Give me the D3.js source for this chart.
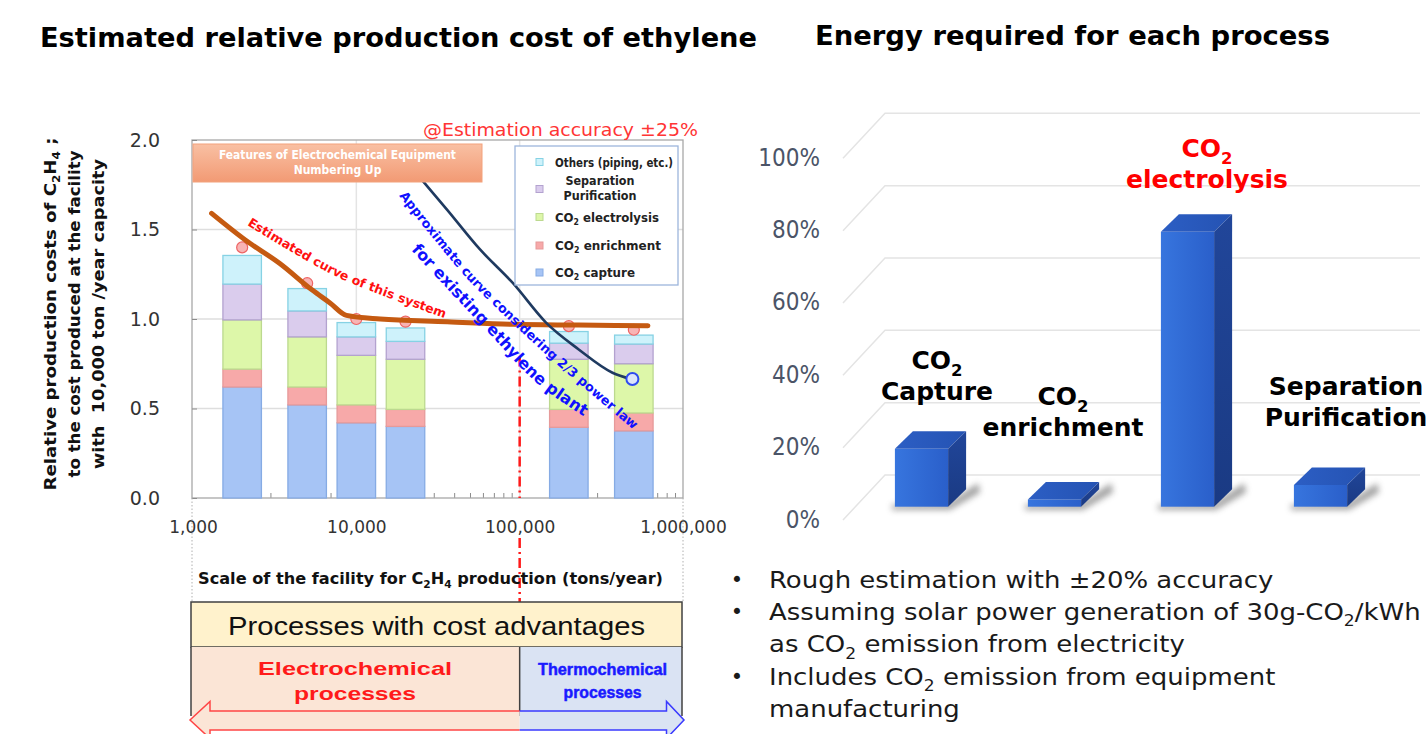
<!DOCTYPE html>
<html>
<head>
<meta charset="utf-8">
<script src="https://cdn.jsdelivr.net/npm/d3@7"></script>
<style>
  body { margin: 0; background: #fff; }
  svg { display: block; }
</style>
</head>
<body>
<svg id="chart" width="1428" height="734"></svg>
<script>
// ---------- Left chart: relative production cost vs. plant scale ----------
const plantScales   = [2000, 5000, 10000, 20000, 200000, 500000];   // tons/year
const co2Capture     = [0.62, 0.52, 0.42, 0.40, 0.395, 0.375];
const co2Enrichment  = [0.10, 0.10, 0.10, 0.095, 0.10, 0.10];
const co2Electrolysis= [0.275, 0.28, 0.277, 0.28, 0.28, 0.275];
const sepPurification= [0.20, 0.145, 0.103, 0.10, 0.09, 0.11];
const othersPiping   = [0.16, 0.125, 0.08, 0.075, 0.065, 0.05];

const estimatedPoints = [[2000, 1.40], [5000, 1.20], [10000, 1.00], [20000, 0.985], [200000, 0.96], [500000, 0.94]];
const estimatedCurve  = [[1300, 1.59], [2100, 1.44], [3400, 1.31], [5400, 1.16], [6900, 1.09], [8700, 1.02],
                         [14000, 1.00], [36000, 0.985], [91000, 0.97], [230000, 0.966], [610000, 0.962]];
const powerLawCurve   = [[24000, 1.80], [36000, 1.61], [57000, 1.39], [91000, 1.20], [145000, 0.98],
                         [230000, 0.83], [370000, 0.70], [480000, 0.665]];
const existingPlant   = [490000, 0.665];
const boundaryScale   = 100000;
const boundaryTop     = 0.79;

const costTicks  = [0, 0.5, 1.0, 1.5, 2.0];
const scaleTicks = [1000, 10000, 100000, 1000000];

const seriesKeys   = ["capture", "enrichment", "electrolysis", "separation", "others"];
const legendLabels = ["Others (piping, etc.)", "Separation|Purification", "CO{2} electrolysis", "CO{2} enrichment", "CO{2} capture"];

// ---------- Right chart: energy share by process ----------
const processes   = ["CO{2}|Capture", "CO{2}|enrichment", "CO{2}|electrolysis", "Separation|Purification"];
const energyShare = [16, 2, 76, 6];   // percent
const shareTicks  = [0, 20, 40, 60, 80, 100];

const notes = [
  ["Rough estimation with \u00b120% accuracy"],
  ["Assuming solar power generation of 30g-CO{2}/kWh", "as CO{2} emission from electricity"],
  ["Includes CO{2} emission from equipment", "manufacturing"]
];

const svg = d3.select("#chart");
const SANS = "DejaVu Sans, Verdana, sans-serif";
const COND = "DejaVu Sans Condensed, DejaVu Sans, sans-serif";
const ARIAL = "Liberation Sans, Arial, sans-serif";

// text with {subscript} markup
function richText(t, s) {
  const fs = parseFloat(t.attr("font-size"));
  const parts = s.split(/(\{[^}]*\})/).filter(p => p.length);
  let shifted = false;
  parts.forEach(p => {
    const sub = p.startsWith("{");
    const ts = t.append("tspan").text(sub ? p.slice(1, -1) : p);
    if (sub) { ts.attr("font-size", fs * 0.66).attr("dy", fs * 0.26); shifted = true; }
    else if (shifted) { ts.attr("dy", -fs * 0.26); shifted = false; }
  });
  return t;
}

const defs = svg.append("defs");

// ---------- titles ----------
svg.append("text").attr("x", 40).attr("y", 47)
  .attr("font-family", SANS).attr("font-weight", "bold").attr("font-size", 26)
  .attr("textLength", 717).attr("lengthAdjust", "spacingAndGlyphs")
  .text("Estimated relative production cost of ethylene");
svg.append("text").attr("x", 815).attr("y", 45)
  .attr("font-family", SANS).attr("font-weight", "bold").attr("font-size", 26)
  .attr("textLength", 515).attr("lengthAdjust", "spacingAndGlyphs")
  .text("Energy required for each process");

// ---------- left chart scales ----------
const x = d3.scaleLog().domain([1000, 1000000]).range([193, 683]);
const y = d3.scaleLinear().domain([0, 2]).range([498, 140]);
const plotL = 192, plotR = 683, plotT = 140, plotB = 498;
const barW = 38.5;

const left = svg.append("g");

// grid
left.append("g").selectAll("line").data([0.5, 1.0, 1.5]).join("line")
  .attr("x1", plotL).attr("x2", plotR).attr("y1", d => y(d)).attr("y2", d => y(d))
  .attr("stroke", "#dedede").attr("stroke-width", 1.5);
left.append("g").selectAll("line").data([10000, 100000]).join("line")
  .attr("x1", d => x(d)).attr("x2", d => x(d)).attr("y1", plotT).attr("y2", plotB)
  .attr("stroke", "#e4e4e4").attr("stroke-width", 1.5);

// minor log ticks along the bottom
const minor = [];
[1000, 10000, 100000].forEach(dec => { for (let k = 2; k <= 9; k++) minor.push(dec * k); });
left.append("g").selectAll("line").data(minor).join("line")
  .attr("x1", d => x(d)).attr("x2", d => x(d)).attr("y1", plotB).attr("y2", plotB - 5)
  .attr("stroke", "#8c8c8c").attr("stroke-width", 1);

// frame
left.append("rect").attr("x", plotL).attr("y", plotT)
  .attr("width", plotR - plotL).attr("height", plotB - plotT)
  .attr("fill", "none").attr("stroke", "#a8a8a8").attr("stroke-width", 1.3);

// axes
const yAxis = left.append("g").attr("transform", `translate(${plotL},0)`)
  .call(d3.axisLeft(y).tickValues(costTicks).tickFormat(d3.format(".1f")).tickSize(-5).tickPadding(32));
yAxis.select(".domain").remove();
yAxis.selectAll("line").attr("stroke", "#8c8c8c");
yAxis.selectAll("text").attr("font-family", SANS).attr("font-size", 19).attr("fill", "#333");

const xAxis = left.append("g").attr("transform", `translate(0,${plotB})`)
  .call(d3.axisBottom(x).tickValues(scaleTicks).tickFormat(d3.format(",")).tickSize(0).tickPadding(23));
xAxis.select(".domain").remove();
xAxis.selectAll("text").attr("font-family", SANS).attr("font-size", 17).attr("fill", "#333");

// dotted guides below the axis
left.append("g").selectAll("line").data([plotL, plotR]).join("line")
  .attr("x1", d => d).attr("x2", d => d).attr("y1", plotB).attr("y2", 602)
  .attr("stroke", "#b0b0b0").attr("stroke-width", 1).attr("stroke-dasharray", "1.5,2");

// stacked bars
const rows = plantScales.map((s, i) => ({
  scale: s, capture: co2Capture[i], enrichment: co2Enrichment[i], electrolysis: co2Electrolysis[i],
  separation: sepPurification[i], others: othersPiping[i]
}));
const stacked = d3.stack().keys(seriesKeys)(rows);
const fills   = { capture: "#a6c4f5", enrichment: "#f7a9a9", electrolysis: "#ddf7a9", separation: "#dacced", others: "#cef2fb" };
const strokes = { capture: "#86abe4", enrichment: "#e69a9a", electrolysis: "#bcd98f", separation: "#b3a2cf", others: "#86d2e4" };

left.append("g").selectAll("g").data(stacked).join("g")
  .attr("fill", d => fills[d.key]).attr("stroke", d => strokes[d.key]).attr("stroke-width", 1.3)
  .selectAll("rect").data(d => d).join("rect")
  .attr("x", d => x(d.data.scale) - barW / 2).attr("width", barW)
  .attr("y", d => y(d[1])).attr("height", d => y(d[0]) - y(d[1]));

// boundary between electrochemical and thermochemical
const bx = x(boundaryScale);
[[y(boundaryTop), plotB], [538, 602]].forEach(([a, b]) => {
  left.append("line").attr("x1", bx).attr("x2", bx).attr("y1", a).attr("y2", b)
    .attr("stroke", "#ff1a1a").attr("stroke-width", 2.5).attr("stroke-dasharray", "10,4,2,4");
});

// estimated points and curve of this system
left.append("g").selectAll("circle").data(estimatedPoints).join("circle")
  .attr("cx", d => x(d[0])).attr("cy", d => y(d[1])).attr("r", 5.5)
  .attr("fill", "#f8b4b4").attr("stroke", "#ee6464").attr("stroke-width", 1.2);

const line = d3.line().x(d => x(d[0])).y(d => y(d[1])).curve(d3.curveMonotoneX);
left.append("path").datum(estimatedCurve).attr("d", line)
  .attr("fill", "none").attr("stroke", "#c55a11").attr("stroke-width", 5)
  .attr("stroke-linecap", "round").attr("stroke-linejoin", "round");

// 2/3 power law curve for existing plants
left.append("path").datum(powerLawCurve).attr("d", line)
  .attr("fill", "none").attr("stroke", "#1f3a60").attr("stroke-width", 2.6).attr("stroke-linecap", "round");
left.append("circle").attr("cx", x(existingPlant[0])).attr("cy", y(existingPlant[1])).attr("r", 6)
  .attr("fill", "#dde5fb").attr("stroke", "#2f4cf0").attr("stroke-width", 2);

// curved annotations
const guide = d3.line().curve(d3.curveCatmullRom.alpha(0.5));
function pathLabel(id, pts, txt, size, color) {
  defs.append("path").attr("id", id).attr("d", guide(pts));
  left.append("text").attr("font-family", SANS).attr("font-weight", "bold")
    .attr("font-size", size).attr("fill", color)
    .append("textPath").attr("href", "#" + id).text(txt);
}
pathLabel("estPath", [[247, 225], [309, 262], [346, 281], [444, 318]],
  "Estimated curve of this system", 12.5, "#ff1010");
pathLabel("lawPath", [[399, 196], [461, 272], [488, 300], [551, 359], [635, 431]],
  "Approximate curve considering 2/3 power law", 12.8, "#1010ff");
pathLabel("plantPath", [[411, 250], [484, 328], [539, 385], [588, 419]],
  "for existing ethylene plant", 16, "#1010ff");

// feature banner
const bannerGrad = defs.append("linearGradient").attr("id", "banner").attr("x1", 0).attr("x2", 0).attr("y1", 0).attr("y2", 1);
bannerGrad.append("stop").attr("offset", "0%").attr("stop-color", "#f9c0a3");
bannerGrad.append("stop").attr("offset", "100%").attr("stop-color", "#f29a74");
left.append("rect").attr("x", 193).attr("y", 144).attr("width", 289).attr("height", 38)
  .attr("fill", "url(#banner)").attr("stroke", "#f3a27c").attr("stroke-width", 1);
left.append("text").attr("x", 337.5).attr("y", 159).attr("text-anchor", "middle")
  .attr("font-family", COND).attr("font-weight", "bold").attr("font-size", 12).attr("fill", "#fff")
  .attr("textLength", 237).attr("lengthAdjust", "spacingAndGlyphs")
  .text("Features of Electrochemical Equipment");
left.append("text").attr("x", 337.5).attr("y", 173.5).attr("text-anchor", "middle")
  .attr("font-family", COND).attr("font-weight", "bold").attr("font-size", 12).attr("fill", "#fff")
  .text("Numbering Up");

// accuracy note
svg.append("text").attr("x", 423).attr("y", 136)
  .attr("font-family", SANS).attr("font-size", 17.5).attr("fill", "#ff3535")
  .attr("textLength", 275).attr("lengthAdjust", "spacingAndGlyphs")
  .text("@Estimation accuracy \u00b125%");

// legend
const lg = left.append("g");
lg.append("rect").attr("x", 515).attr("y", 146).attr("width", 163).attr("height", 139)
  .attr("fill", "#fff").attr("stroke", "#9db6dc").attr("stroke-width", 1.3);
const legendKeys = ["others", "separation", "electrolysis", "enrichment", "capture"];
const legendY = [162, 189, 217, 245.5, 272.5];
const legendLen = [118, [69, 73], 104, 106, 80];
legendKeys.forEach((k, i) => {
  lg.append("rect").attr("x", 536).attr("y", legendY[i] - 3.5).attr("width", 7).attr("height", 7)
    .attr("fill", fills[k]).attr("stroke", strokes[k]).attr("stroke-width", 1);
  const lines = legendLabels[i].split("|");
  if (lines.length === 1) {
    richText(lg.append("text").attr("x", 555).attr("y", legendY[i] + 4.5)
      .attr("font-family", COND).attr("font-weight", "bold").attr("font-size", i === 0 ? 11.5 : 12.5).attr("fill", "#222")
      .attr("textLength", legendLen[i]).attr("lengthAdjust", "spacingAndGlyphs"), lines[0]);
  } else {
    lines.forEach((ln, j) => {
      lg.append("text").attr("x", 600).attr("y", legendY[i] - 4 + j * 15).attr("text-anchor", "middle")
        .attr("font-family", COND).attr("font-weight", "bold").attr("font-size", 12).attr("fill", "#222")
        .attr("textLength", legendLen[i][j]).attr("lengthAdjust", "spacingAndGlyphs").text(ln);
    });
  }
});

// axis titles
const yTitle = svg.append("g").attr("font-family", SANS).attr("font-weight", "bold")
  .attr("fill", "#111").attr("text-anchor", "middle");
[["Relative production costs of C{2}H{4} ;", 55.5, 353], ["to the cost produced at the facility", 80, 327],
 ["with  10,000 ton /year capacity", 103.5, 310]].forEach(([s, bxp, len]) => {
  richText(yTitle.append("text").attr("transform", `translate(${bxp},314) rotate(-90)`)
    .attr("font-size", 15.5).attr("xml:space", "preserve")
    .attr("textLength", len).attr("lengthAdjust", "spacingAndGlyphs"), s);
});
richText(svg.append("text").attr("x", 430.5).attr("y", 584).attr("text-anchor", "middle")
  .attr("font-family", SANS).attr("font-weight", "bold").attr("font-size", 15).attr("fill", "#111")
  .attr("textLength", 465).attr("lengthAdjust", "spacingAndGlyphs"),
  "Scale of the facility for C{2}H{4} production (tons/year)");

// ---------- process advantage boxes ----------
const bxg = svg.append("g");
bxg.append("rect").attr("x", 191).attr("y", 602).attr("width", 491).attr("height", 45)
  .attr("fill", "#fff2cc").attr("stroke", "#404040").attr("stroke-width", 1.5);
bxg.append("text").attr("x", 436.5).attr("y", 635).attr("text-anchor", "middle")
  .attr("font-family", ARIAL).attr("font-size", 26).attr("fill", "#111")
  .attr("textLength", 417).attr("lengthAdjust", "spacingAndGlyphs")
  .text("Processes with cost advantages");
bxg.append("rect").attr("x", 191).attr("y", 647).attr("width", bx - 191).attr("height", 69).attr("fill", "#fbe5d6");
bxg.append("rect").attr("x", bx).attr("y", 647).attr("width", 682 - bx).attr("height", 69).attr("fill", "#dae3f3");
[[191, 647, 191, 716], [682, 647, 682, 716], [bx, 647, bx, 716]].forEach(([a, b, c, d]) => {
  bxg.append("line").attr("x1", a).attr("y1", b).attr("x2", c).attr("y2", d)
    .attr("stroke", "#404040").attr("stroke-width", 1.5);
});

// double-headed arrow
const arrowL = `M${bx},711 L210,711 L210,701.5 L190,720 L210,738.5 L210,730 L${bx},730`;
const arrowR = `M${bx},711 L666.5,711 L666.5,701.5 L684,720 L666.5,738.5 L666.5,730 L${bx},730`;
bxg.append("path").attr("d", arrowL + "Z").attr("fill", "#fbe5d6");
bxg.append("path").attr("d", arrowR + "Z").attr("fill", "#dae3f3");
bxg.append("path").attr("d", arrowL).attr("fill", "none").attr("stroke", "#ff4545").attr("stroke-width", 1.5);
bxg.append("path").attr("d", arrowR).attr("fill", "none").attr("stroke", "#3a3aff").attr("stroke-width", 1.5);

[["Electrochemical", 675, 194], ["processes", 700, 122]].forEach(([s, yy, w]) => {
  bxg.append("text").attr("x", 355).attr("y", yy).attr("text-anchor", "middle")
    .attr("font-family", ARIAL).attr("font-weight", "bold").attr("font-size", 19).attr("fill", "#ff1a1a")
    .attr("textLength", w).attr("lengthAdjust", "spacingAndGlyphs").text(s);
});
[["Thermochemical", 675, 129], ["processes", 698, 78]].forEach(([s, yy, w]) => {
  bxg.append("text").attr("x", 602.5).attr("y", yy).attr("text-anchor", "middle")
    .attr("font-family", ARIAL).attr("font-weight", "bold").attr("font-size", 16).attr("fill", "#1a1aff")
    .attr("stroke", "#1a1aff").attr("stroke-width", 0.5)
    .attr("textLength", w).attr("lengthAdjust", "spacingAndGlyphs").text(s);
});

// ---------- right chart: 3D columns ----------
const right = svg.append("g");
const wallY = d3.scaleLinear().domain([0, 100]).range([475, 113.3]);   // back wall
const barY  = d3.scaleLinear().domain([0, 100]).range([506.7, 145]);   // bar front plane
const band  = d3.scaleBand().domain(processes).range([855, 1387]).paddingInner(0.6).paddingOuter(0.3);
const depth = { dx: 18, dy: -17.5 };
const floorDx = 42, floorDy = 45;

right.append("g").selectAll("path").data(shareTicks).join("path")
  .attr("d", d => `M${885 - floorDx},${wallY(d) + floorDy} L885,${wallY(d)} L1420,${wallY(d)}`)
  .attr("fill", "none").attr("stroke", "#e4e4e4").attr("stroke-width", 1.5);

right.append("g").selectAll("text").data(shareTicks).join("text")
  .attr("x", 820).attr("y", d => wallY(d) + 44 + 8.5).attr("text-anchor", "end")
  .attr("font-family", COND).attr("font-size", 24).attr("fill", "#4b5467")
  .text(d => d + "%");

const gFront = defs.append("linearGradient").attr("id", "front");
gFront.append("stop").attr("offset", "0%").attr("stop-color", "#3775de");
gFront.append("stop").attr("offset", "100%").attr("stop-color", "#2a5fca");
const gTop = defs.append("linearGradient").attr("id", "topface");
gTop.append("stop").attr("offset", "0%").attr("stop-color", "#2c5ec4");
gTop.append("stop").attr("offset", "100%").attr("stop-color", "#2553b3");
const gSide = defs.append("linearGradient").attr("id", "side").attr("x1", 0).attr("x2", 0).attr("y1", 0).attr("y2", 1);
gSide.append("stop").attr("offset", "0%").attr("stop-color", "#21469a");
gSide.append("stop").attr("offset", "100%").attr("stop-color", "#1a3a83");
defs.append("filter").attr("id", "soft").attr("x", "-30%").attr("y", "-30%").attr("width", "160%").attr("height", "160%")
  .append("feGaussianBlur").attr("stdDeviation", 3);

const cols = processes.map((p, i) => ({ name: p, v: energyShare[i] }));
const colG = right.append("g").selectAll("g").data(cols).join("g");
colG.each(function (d) {
  const g = d3.select(this);
  const x0 = band(d.name), w = band.bandwidth();
  const top = barY(d.v), bot = barY(0);
  const { dx, dy } = depth;
  // soft contact shadow
  g.append("path")
    .attr("d", `M${x0 - 3},${bot + 3} L${x0 + w + 2},${bot + 3} L${x0 + w + dx + 14},${bot + dy + 3} L${x0 + w + dx + 12},${bot + dy - 6} L${x0 + w},${bot - 4} L${x0 - 3},${bot - 2}Z`)
    .attr("fill", "#555").attr("opacity", 0.55).attr("filter", "url(#soft)");
  g.append("rect").attr("x", x0).attr("y", top).attr("width", w).attr("height", bot - top).attr("fill", "url(#front)");
  g.append("path").attr("d", `M${x0},${top} L${x0 + dx},${top + dy} L${x0 + w + dx},${top + dy} L${x0 + w},${top}Z`)
    .attr("fill", "url(#topface)");
  g.append("path").attr("d", `M${x0 + w},${top} L${x0 + w + dx},${top + dy} L${x0 + w + dx},${bot + dy} L${x0 + w},${bot}Z`)
    .attr("fill", "url(#side)");
});

// category labels
const catLabel = [
  { cx: 937,  y: [369, 400], color: "#000" },
  { cx: 1063, y: [405, 436], color: "#000" },
  { cx: 1207, y: [157, 188], color: "#ff0000" },
  { cx: 1346, y: [395, 426], color: "#000" }
];
processes.forEach((p, i) => {
  p.split("|").forEach((ln, j) => {
    richText(right.append("text").attr("x", catLabel[i].cx).attr("y", catLabel[i].y[j])
      .attr("text-anchor", "middle").attr("font-family", SANS).attr("font-weight", "bold")
      .attr("font-size", 25).attr("fill", catLabel[i].color), ln);
  });
});

// ---------- notes ----------
const ng = svg.append("g").attr("font-family", SANS).attr("fill", "#1a1a1a");
let row = 0;
const baseY = 588, lh = 32.2, stretch = 1.105;
notes.forEach(item => {
  ng.append("text").attr("x", 737).attr("y", baseY + row * lh - 1).attr("text-anchor", "middle")
    .attr("font-size", 21).text("\u2022");
  item.forEach(ln => {
    richText(ng.append("text").attr("transform", `translate(769,${baseY + row * lh}) scale(${stretch},1)`)
      .attr("font-size", 23.5), ln);
    row++;
  });
});
</script>
</body>
</html>
